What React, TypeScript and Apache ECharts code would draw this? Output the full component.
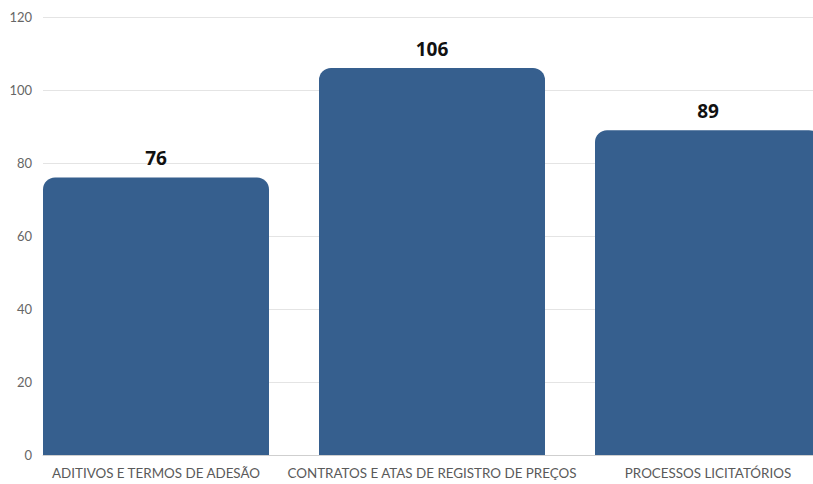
import React, { useEffect, useRef } from "react";
import * as echarts from "echarts";

const categories = [
  "ADITIVOS E TERMOS DE ADESÃO",
  "CONTRATOS E ATAS DE REGISTRO DE PREÇOS",
  "PROCESSOS LICITATÓRIOS",
];
const values = [76, 106, 89];
const yMin = 0;
const yMax = 120;
const yInterval = 20;

const CHART_W = 850;

export default function App() {
  const ref = useRef<HTMLDivElement>(null);
  useEffect(() => {
    if (!ref.current) return;
    const chart = echarts.init(ref.current, null, { renderer: "svg" });
    const font = "Lato, 'Noto Sans', sans-serif";
    chart.setOption({
      animation: false,
      backgroundColor: "#ffffff",
      grid: [
        { left: 43, right: CHART_W - 813, top: 17, bottom: 29 },
        { left: 18, right: CHART_W - 846, top: 17, bottom: 29 },
      ],
      xAxis: [
        {
          type: "category",
          gridIndex: 0,
          data: categories,
          axisLine: { show: true, lineStyle: { color: "#cfcfcf", width: 1 } },
          axisTick: { show: false },
          axisLabel: { show: false },
        },
        {
          type: "category",
          gridIndex: 1,
          data: categories,
          axisLine: { show: false },
          axisTick: { show: false },
          axisLabel: {
            color: "#5a5a5a",
            fontSize: 13.4,
            fontFamily: font,
            margin: 11,
            interval: 0,
          },
        },
      ],
      yAxis: [
        {
          type: "value",
          gridIndex: 0,
          min: yMin,
          max: yMax,
          interval: yInterval,
          axisLine: { show: false },
          axisTick: { show: false },
          axisLabel: { color: "#666666", fontSize: 13, fontFamily: font, margin: 11 },
          splitLine: { lineStyle: { color: "#e4e4e4", width: 1 } },
        },
        {
          type: "value",
          gridIndex: 1,
          min: yMin,
          max: yMax,
          interval: yInterval,
          show: false,
          splitLine: { show: false },
        },
      ],
      series: [
        {
          type: "bar",
          xAxisIndex: 1,
          yAxisIndex: 1,
          data: values,
          barWidth: 226,
          itemStyle: { color: "#365f8e", borderRadius: [12, 12, 0, 0] },
          label: {
            show: true,
            position: "top",
            distance: 10,
            color: "#111111",
            fontSize: 19,
            fontWeight: "bold",
            fontFamily: "'Open Sans', 'Noto Sans', sans-serif",
          },
        },
      ],
    });
    return () => chart.dispose();
  }, []);
  return (
    <div
      style={{
        position: "fixed",
        left: 0,
        top: 0,
        width: 813,
        height: 484,
        overflow: "hidden",
        background: "#ffffff",
      }}
    >
      <div ref={ref} style={{ width: CHART_W, height: 484 }} />
    </div>
  );
}
